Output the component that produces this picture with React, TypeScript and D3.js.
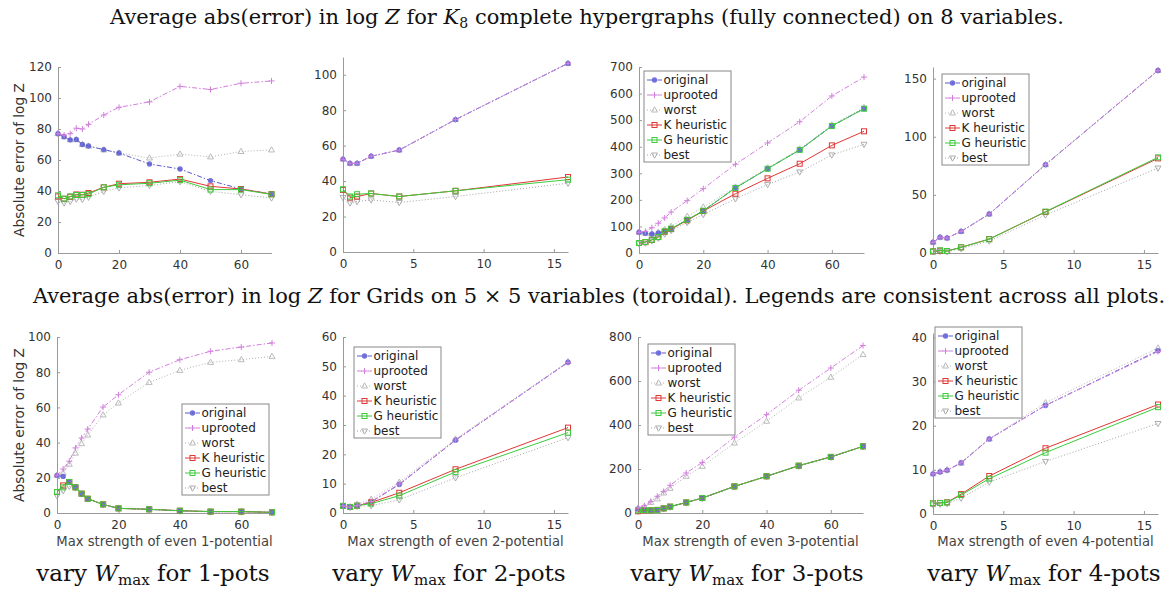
import React, { useEffect, useRef } from "react";
import * as d3 from "d3";

// x positions (max strength of the potential)
const xsWide = [0, 2, 4, 6, 8, 10, 15, 20, 30, 40, 50, 60, 70];
const xsNarrow = [0, 0.5, 1, 2, 4, 8, 16];

const seriesNames = ["original", "uprooted", "worst", "K heuristic", "G heuristic", "best"];

// each block: original, uprooted, worst, K heuristic, G heuristic, best
const k8Pot1 = [
  [77, 75, 73, 73.3, 70, 69, 66.7, 64.5, 57.4, 54.2, 46.7, 41.3, 38],
  [77, 76, 77, 80.5, 80, 83, 89, 94, 97.5, 107.5, 105.5, 109.5, 111],
  [77, 75, 73, 73, 70, 69, 66.5, 64.5, 61.3, 63.8, 62, 65.5, 66.5],
  [36.5, 35, 36.3, 37.8, 37.6, 38.7, 42.4, 44.7, 45.6, 47.7, 43, 41.3, 38],
  [37.2, 35, 36.5, 37.4, 37.4, 38, 42.4, 44, 45, 47, 40.9, 40.9, 37.8],
  [33.3, 32.3, 33.3, 34.8, 34.6, 36, 39.8, 42, 43.6, 46, 39.8, 37.6, 35.5],
];
const k8Pot2 = [
  [52.4, 50, 50, 54, 57.5, 74.7, 106.4],
  [52.4, 50, 50, 54, 57.5, 74.7, 106.4],
  [52.4, 50, 50, 54, 57.5, 74.7, 106.4],
  [35, 30.7, 31.3, 33, 31.3, 34.5, 42.3],
  [35.4, 31.3, 32.6, 33, 31.3, 34.5, 40.8],
  [30.7, 27.7, 28.5, 29.4, 27.9, 31.3, 38.8],
];
const k8Pot3 = [
  [78, 74, 71.5, 75, 82, 92, 125, 159, 245, 317, 388, 478, 543],
  [78, 81.5, 95, 112, 132, 154, 197, 242, 334, 414, 494, 591, 662],
  [78, 74, 71.5, 78, 88, 100, 138, 173, 248, 320, 391, 482, 547],
  [37.6, 41, 49, 60, 80, 90, 123, 158, 223, 281, 336, 405, 458],
  [37.6, 41.4, 50, 60, 81.5, 91.6, 125, 159, 245, 317, 388, 478, 543],
  [35, 37.6, 46, 56, 71.5, 85, 115, 145, 204, 258, 305, 369, 409],
];
const k8Pot4 = [
  [9.2, 13.5, 12.9, 18.6, 33.5, 76, 157],
  [9.2, 13.5, 12.9, 18.6, 33.5, 76, 157],
  [9.2, 13.5, 12.9, 18.6, 33.5, 76, 157],
  [1.4, 2, 1.7, 4.9, 12, 35.3, 81.4],
  [1.4, 2.3, 1.7, 4.9, 11.8, 35.6, 82.3],
  [1.1, 1.4, 1.1, 3.7, 10.3, 32.7, 73.1],
];
const gridPot1 = [
  [21.4, 20.8, 17.6, 14.6, 11, 8.1, 4.9, 2.65, 2.1, 1.3, 0.8, 0.8, 0.4],
  [21.4, 25, 29.4, 37, 42.6, 47.7, 60.2, 67.2, 80, 87.1, 91.9, 94.3, 96.6],
  [21.4, 22.7, 27.7, 34, 39.4, 44.3, 55.7, 62.5, 74.2, 81, 85.6, 87.1, 89],
  [11.9, 15.7, 17.6, 14.6, 11, 8.1, 4.9, 2.65, 2.1, 1.3, 0.8, 0.8, 0.4],
  [11.9, 14.6, 17.6, 14.6, 11, 8.1, 4.9, 2.65, 2.1, 1.3, 0.8, 0.8, 0.4],
  [9.8, 12.7, 15.2, 14.2, 10.8, 8, 4.7, 2.5, 1.9, 1.1, 0.6, 0.6, 0.2],
];
const gridPot2 = [
  [2.4, 2.05, 2.5, 3.75, 9.7, 24.8, 51.4],
  [2.4, 2, 2.6, 3.9, 9.9, 24.9, 51.3],
  [2.5, 2.1, 3, 4.7, 10.5, 25.2, 51.6],
  [2.4, 2.05, 2.5, 3.6, 6.9, 14.9, 29.1],
  [2.4, 2.05, 2.5, 3.2, 5.9, 14, 27.4],
  [2.3, 1.9, 2.3, 2.5, 4.5, 12, 25.7],
];
const gridPot3 = [
  [18, 15, 12, 14, 21, 29, 48, 68, 121, 167, 215, 255, 303],
  [23, 33, 53, 76, 98, 126, 182, 230, 345, 447, 558, 659, 761],
  [21, 29, 48, 64, 91, 112, 167, 212, 318, 417, 523, 617, 720],
  [8, 12, 12, 14, 21, 29, 48, 68, 121, 167, 215, 255, 303],
  [12, 14, 12, 14, 21, 29, 48, 68, 121, 167, 215, 255, 303],
  [8, 10, 10, 12, 19, 27, 46, 66, 119, 165, 213, 253, 301],
];
const gridPot4 = [
  [9.1, 9.5, 9.9, 11.6, 17, 24.6, 37],
  [9.1, 9.5, 9.9, 11.6, 17, 24.6, 36.8],
  [9.1, 9.6, 10, 11.5, 17, 25.2, 37.6],
  [2.4, 2.5, 2.65, 4.5, 8.6, 14.9, 24.8],
  [2.4, 2.5, 2.6, 4.3, 8, 13.9, 24.2],
  [2.1, 2.2, 2.35, 3.6, 7.2, 11.9, 20.5],
];

const bottomLabels = ["1-pots", "2-pots", "3-pots", "4-pots"];

const styles = [
  { color: "#5b5bd2", dash: "5,2,1.5,2", marker: "dot" },
  { color: "#d27fdc", dash: "5,2,1.5,2", marker: "plus" },
  { color: "#b4b4b4", dash: "1,2", marker: "up" },
  { color: "#e23636", dash: null, marker: "square" },
  { color: "#3ccc3c", dash: null, marker: "square" },
  { color: "#a4a4a4", dash: "1,2", marker: "down" },
];
// worst, best, original, K, G, uprooted
const drawOrder = [2, 5, 0, 3, 4, 1];

const panels = [
  { data: k8Pot1, xs: xsWide, l: 58, r: 271.5, t: 67, b: 253, ymax: 120, xt: [0, 20, 40, 60], yt: d3.range(0, 121, 20), legend: null, ylab: true },
  { data: k8Pot2, xs: xsNarrow, l: 343, r: 568, t: 57, b: 252, ymax: 110, xt: [0, 5, 10, 15], yt: d3.range(0, 101, 20), legend: null },
  { data: k8Pot3, xs: xsWide, l: 639, r: 864, t: 67, b: 253, ymax: 700, xt: [0, 20, 40, 60], yt: d3.range(0, 701, 100), legend: [644, 71] },
  { data: k8Pot4, xs: xsNarrow, l: 933, r: 1158, t: 67, b: 253, ymax: 160, xt: [0, 5, 10, 15], yt: [0, 50, 100, 150], legend: [942, 74] },
  { data: gridPot1, xs: xsWide, l: 57, r: 272, t: 337, b: 513, ymax: 100, xt: [0, 20, 40, 60], yt: d3.range(0, 101, 20), legend: [182, 404], ylab: true, xlab: 1 },
  { data: gridPot2, xs: xsNarrow, l: 343, r: 568, t: 337, b: 513, ymax: 60, xt: [0, 5, 10, 15], yt: d3.range(0, 61, 10), legend: [354, 347], xlab: 2 },
  { data: gridPot3, xs: xsWide, l: 638, r: 863, t: 337, b: 513, ymax: 800, xt: [0, 20, 40, 60], yt: d3.range(0, 801, 200), legend: [648, 344], xlab: 3 },
  { data: gridPot4, xs: xsNarrow, l: 933, r: 1158, t: 333, b: 514, ymax: 41, xt: [0, 5, 10, 15], yt: d3.range(0, 41, 10), legend: [935, 327], xlab: 4 },
];

const SANS = "DejaVu Sans, sans-serif";
const SERIF = "DejaVu Serif, serif";

function drawMarker(g: any, kind: string, x: number, y: number, color: string) {
  if (kind === "dot") {
    g.append("circle").attr("cx", x).attr("cy", y).attr("r", 2.7)
      .attr("fill", color).attr("fill-opacity", 0.85).attr("stroke", "none");
  } else if (kind === "plus") {
    g.append("path").attr("d", `M${x - 3},${y}H${x + 3}M${x},${y - 3}V${y + 3}`)
      .attr("stroke", color).attr("stroke-width", 1).attr("fill", "none");
  } else if (kind === "square") {
    g.append("rect").attr("x", x - 2.5).attr("y", y - 2.5).attr("width", 5).attr("height", 5)
      .attr("stroke", color).attr("stroke-width", 1).attr("fill", "none");
  } else {
    const s = kind === "up" ? -1 : 1;
    g.append("path")
      .attr("d", `M${x},${y + s * 3.2}L${x - 3},${y - s * 2}L${x + 3},${y - s * 2}Z`)
      .attr("stroke", color).attr("stroke-width", 0.9).attr("fill", "none");
  }
}

export default function App() {
  const ref = useRef<SVGGElement>(null);

  useEffect(() => {
    const svg = d3.select(ref.current);
    svg.selectAll("*").remove();

    panels.forEach((p) => {
      const x = d3.scaleLinear().domain([0, p.xs[p.xs.length - 1]]).range([p.l, p.r]);
      const y = d3.scaleLinear().domain([0, p.ymax]).range([p.b, p.t]);
      const g = svg.append("g");

      // axes (inward ticks, MATLAB style)
      const ax = g.append("g").attr("transform", `translate(0,${p.b})`)
        .call(d3.axisBottom(x).tickValues(p.xt).tickSize(-3).tickPadding(7).tickSizeOuter(0));
      const ay = g.append("g").attr("transform", `translate(${p.l},0)`)
        .call(d3.axisLeft(y).tickValues(p.yt).tickSize(-3).tickPadding(6).tickSizeOuter(0));
      [ax, ay].forEach((a) => {
        a.select(".domain").attr("stroke", "#9a9a9a");
        a.selectAll(".tick line").attr("stroke", "#9a9a9a");
        a.selectAll("text").attr("fill", "#333").style("font-family", SANS).style("font-size", "12px");
      });
      ax.selectAll("text").attr("dy", "0.75em");

      drawOrder.forEach((si) => {
        const st = styles[si];
        const vals = p.data[si];
        const line = d3.line<number>().x((_, i) => x(p.xs[i])).y((v) => y(v));
        g.append("path").attr("d", line(vals)).attr("fill", "none")
          .attr("stroke", st.color).attr("stroke-width", 1)
          .attr("stroke-dasharray", st.dash || null);
        vals.forEach((v, i) => drawMarker(g, st.marker, x(p.xs[i]), y(v), st.color));
      });

      if (p.ylab) {
        g.append("text")
          .attr("transform", `translate(20,${(p.t + p.b) / 2}) rotate(-90)`)
          .attr("text-anchor", "middle").attr("dominant-baseline", "middle")
          .style("font-family", SANS).style("font-size", "13.7px").attr("fill", "#333")
          .text("Absolute error of log Z");
      }
      if (p.xlab) {
        g.append("text").attr("x", (p.l + p.r) / 2).attr("y", 546)
          .attr("text-anchor", "middle")
          .style("font-family", SANS).style("font-size", "13.2px").attr("fill", "#444")
          .text(`Max strength of even ${p.xlab}-potential`);
      }

      if (p.legend) {
        const [lx, ly] = p.legend;
        const lg = g.append("g");
        lg.append("rect").attr("x", lx).attr("y", ly).attr("width", 87).attr("height", 91)
          .attr("fill", "white").attr("stroke", "#888").attr("stroke-width", 1);
        seriesNames.forEach((name, i) => {
          const st = styles[i];
          const yy = ly + 9 + i * 15;
          lg.append("line").attr("x1", lx + 3).attr("x2", lx + 18).attr("y1", yy).attr("y2", yy)
            .attr("stroke", st.color).attr("stroke-width", 1)
            .attr("stroke-dasharray", st.dash || null);
          drawMarker(lg, st.marker, lx + 10.5, yy, st.color);
          lg.append("text").attr("x", lx + 19.5).attr("y", yy).attr("dominant-baseline", "central")
            .style("font-family", SANS).style("font-size", "12px").attr("fill", "#222")
            .text(name);
        });
      }
    });
  }, []);

  const titleStyle = { fontFamily: SERIF, fontSize: 21 };
  const labelCx = [153, 449, 747, 1044];

  return (
    <div style={{ position: "absolute", left: 0, top: 0 }}>
      <svg width={1175} height={589} style={{ display: "block", background: "white" }}>
        <g ref={ref} />
        <text x={587} y={24} textAnchor="middle" style={titleStyle} fill="#111">
          Average abs(error) in log <tspan fontStyle="italic">Z</tspan> for{" "}
          <tspan fontStyle="italic">K</tspan>
          <tspan fontSize={14} dy={4}>8</tspan>
          <tspan dy={-4}> complete hypergraphs (fully connected) on 8 variables.</tspan>
        </text>
        <text x={599} y={303} textAnchor="middle" style={titleStyle} fill="#111">
          Average abs(error) in log <tspan fontStyle="italic">Z</tspan> for Grids on 5 × 5 variables
          (toroidal). Legends are consistent across all plots.
        </text>
        {bottomLabels.map((lab, i) => (
          <text key={lab} x={labelCx[i]} y={581} textAnchor="middle"
            style={{ fontFamily: SERIF, fontSize: 23 }} fill="#111">
            vary <tspan fontStyle="italic">W</tspan>
            <tspan fontSize={15} dy={4}>max</tspan>
            <tspan dy={-4}> for {lab}</tspan>
          </text>
        ))}
      </svg>
    </div>
  );
}
